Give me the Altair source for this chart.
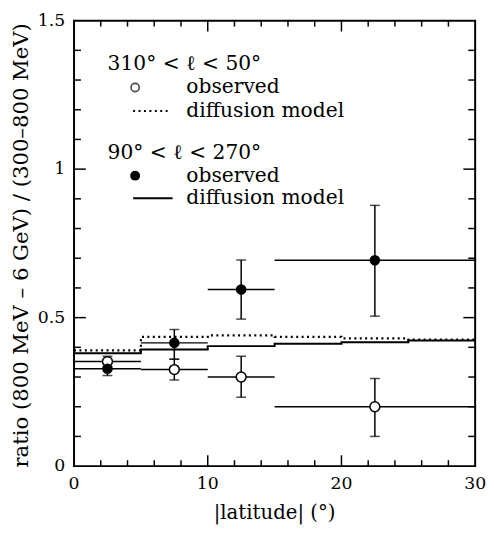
import altair as alt
import pandas as pd

# ---------------- data ----------------
lat_center = [2.5, 7.5, 12.5, 22.5]
lat_lo = [0, 5, 10, 15]
lat_hi = [5, 10, 15, 30]

# 310° < l < 50° (open circles)
inner_obs = [0.352, 0.325, 0.300, 0.200]
inner_lo = [0.335, 0.290, 0.232, 0.100]
inner_hi = [0.370, 0.360, 0.370, 0.295]

# 90° < l < 270° (filled circles)
outer_obs = [0.328, 0.415, 0.595, 0.693]
outer_lo = [0.305, 0.360, 0.495, 0.505]
outer_hi = [0.355, 0.460, 0.694, 0.878]

# diffusion model steps
model_edges = [0, 5, 10, 15, 20, 25, 30]
model_inner = [0.390, 0.435, 0.440, 0.435, 0.430, 0.426, 0.426]
model_outer = [0.380, 0.393, 0.404, 0.412, 0.417, 0.423, 0.423]

x_ticks_minor = [2, 4, 6, 8, 12, 14, 16, 18, 22, 24, 26, 28]
x_ticks_major = [10, 20]
y_ticks_minor = [0.1, 0.2, 0.3, 0.4, 0.6, 0.7, 0.8, 0.9, 1.1, 1.2, 1.3, 1.4]
y_ticks_major = [0.5, 1.0]
x_labels = [0, 10, 20, 30]
y_labels = [0, 0.5, 1, 1.5]
y_label_text = ["0", "0.5", "1", "1.5"]

x_title = "|latitude|  (°)"
y_title = "ratio  (800 MeV  –  6 GeV)  /  (300–800 MeV)"

legend_text = ["310° < ℓ < 50°", "observed", "diffusion model",
               "90° < ℓ < 270°", "observed", "diffusion model"]
legend_tx = [2.51, 8.40, 8.40, 2.51, 8.40, 8.40]
legend_ty = [1.354, 1.275, 1.196, 1.054, 0.978, 0.902]

W, H = 407, 452
FONT = "DejaVu Serif"

xs = alt.Scale(domain=[0, 30], nice=False, zero=False)
ys = alt.Scale(domain=[0, 1.5], nice=False, zero=False)


def X(f):
    return alt.X(f, scale=xs, axis=None)


def Y(f):
    return alt.Y(f, scale=ys, axis=None)


obs = pd.DataFrame({
    "x": lat_center * 2,
    "xlo": lat_lo * 2,
    "xhi": lat_hi * 2,
    "y": inner_obs + outer_obs,
    "ylo": inner_lo + outer_lo,
    "yhi": inner_hi + outer_hi,
    "grp": ["inner"] * 4 + ["outer"] * 4,
})

hbars = alt.Chart(obs).mark_rule(color="black", strokeWidth=1.5).encode(
    x=X("xlo:Q"), x2="xhi:Q", y=Y("y:Q"))
vbars = alt.Chart(obs).mark_rule(color="black", strokeWidth=1.5).encode(
    x=X("x:Q"), y=Y("ylo:Q"), y2="yhi:Q")
caps_lo = alt.Chart(obs).mark_tick(color="black", orient="horizontal",
                                   size=10, thickness=1.5).encode(x=X("x:Q"), y=Y("ylo:Q"))
caps_hi = alt.Chart(obs).mark_tick(color="black", orient="horizontal",
                                   size=10, thickness=1.5).encode(x=X("x:Q"), y=Y("yhi:Q"))

open_pts = alt.Chart(obs[obs.grp == "inner"]).mark_point(
    filled=False, color="black", fill="white", fillOpacity=1, size=100,
    strokeWidth=1.5, opacity=1).encode(x=X("x:Q"), y=Y("y:Q"))
filled_pts = alt.Chart(obs[obs.grp == "outer"]).mark_circle(
    color="black", size=115, opacity=1).encode(x=X("x:Q"), y=Y("y:Q"))

mdf = pd.DataFrame({"x": model_edges, "inner": model_inner, "outer": model_outer})
line_inner = alt.Chart(mdf).mark_line(
    color="black", strokeWidth=2.2, strokeDash=[2, 3.5], interpolate="step-after").encode(
    x=X("x:Q"), y=Y("inner:Q"))
line_outer = alt.Chart(mdf).mark_line(
    color="black", strokeWidth=2, interpolate="step-after").encode(
    x=X("x:Q"), y=Y("outer:Q"))


def ticks(values, side, length, width=1.5):
    d = pd.DataFrame({"t": values})
    base = alt.Chart(d).mark_rule(color="black", strokeWidth=width)
    if side == "bottom":
        return base.encode(x=X("t:Q"), y=alt.value(H), y2=alt.value(H - length))
    if side == "top":
        return base.encode(x=X("t:Q"), y=alt.value(0), y2=alt.value(length))
    if side == "left":
        return base.encode(y=Y("t:Q"), x=alt.value(0), x2=alt.value(length))
    return base.encode(y=Y("t:Q"), x=alt.value(W), x2=alt.value(W - length))


tick_layers = [
    ticks(x_ticks_minor, "bottom", 6), ticks(x_ticks_major, "bottom", 11),
    ticks(x_ticks_minor, "top", 6), ticks(x_ticks_major, "top", 11),
    ticks(y_ticks_minor, "left", 7), ticks(y_ticks_major, "left", 12),
    ticks(y_ticks_minor, "right", 7), ticks(y_ticks_major, "right", 12),
]

# axis labels and titles (drawn as text through the scales)
xlab = alt.Chart(pd.DataFrame({"v": x_labels, "s": [str(v) for v in x_labels]})).mark_text(
    font=FONT, fontSize=17.5, color="black", baseline="middle", align="center").encode(
    x=X("v:Q"), y=alt.value(H + 18), text="s:N")
ylab = alt.Chart(pd.DataFrame({"v": y_labels, "s": y_label_text})).mark_text(
    font=FONT, fontSize=17.5, color="black", baseline="middle", align="right").encode(
    y=Y("v:Q"), x=alt.value(-9), text="s:N")
xtit = alt.Chart(pd.DataFrame({"s": [x_title]})).mark_text(
    font=FONT, fontSize=20, color="black", baseline="middle", align="center").encode(
    x=alt.value(W / 2), y=alt.value(H + 48), text="s:N")
ytit = alt.Chart(pd.DataFrame({"s": [y_title]})).mark_text(
    font=FONT, fontSize=21.5, color="black", baseline="middle", align="center",
    angle=270).encode(
    x=alt.value(-53), y=alt.value(H / 2 + 2), text="s:N")

# legend
ldf = pd.DataFrame({"tx": legend_tx, "ty": legend_ty, "txt": legend_text})
leg_text = alt.Chart(ldf).mark_text(
    align="left", baseline="middle", font=FONT, fontSize=20.5, color="black").encode(
    x=X("tx:Q"), y=Y("ty:Q"), text="txt:N")
leg_sym_open = alt.Chart(pd.DataFrame({"sx": [4.57], "sy": [legend_ty[1]]})).mark_point(
    filled=False, color="black", size=70, strokeWidth=1.6).encode(x=X("sx:Q"), y=Y("sy:Q"))
leg_sym_fill = alt.Chart(pd.DataFrame({"sx": [4.57], "sy": [legend_ty[4]]})).mark_circle(
    color="black", size=100, opacity=1).encode(x=X("sx:Q"), y=Y("sy:Q"))
leg_line_dot = alt.Chart(pd.DataFrame({"a": [4.42], "b": [7.2], "sy": [legend_ty[2]]})).mark_rule(
    color="black", strokeWidth=2, strokeDash=[2, 3.5]).encode(
    x=X("a:Q"), x2="b:Q", y=Y("sy:Q"))
leg_line_solid = alt.Chart(pd.DataFrame({"a": [4.42], "b": [7.37], "sy": [legend_ty[5]]})).mark_rule(
    color="black", strokeWidth=2).encode(
    x=X("a:Q"), x2="b:Q", y=Y("sy:Q"))

chart = alt.layer(
    hbars, line_inner, line_outer, vbars, caps_lo, caps_hi, open_pts, filled_pts,
    *tick_layers, xlab, ylab, xtit, ytit,
    leg_text, leg_sym_open, leg_sym_fill, leg_line_dot, leg_line_solid,
).properties(
    width=W, height=H,
    autosize=alt.AutoSizeParams(type="none"),
    padding={"left": 67, "top": 9, "right": 11, "bottom": 62},
).configure_view(stroke="black", strokeWidth=2)

chart.save("out.html", embed_options={"renderer": "svg", "actions": False})
